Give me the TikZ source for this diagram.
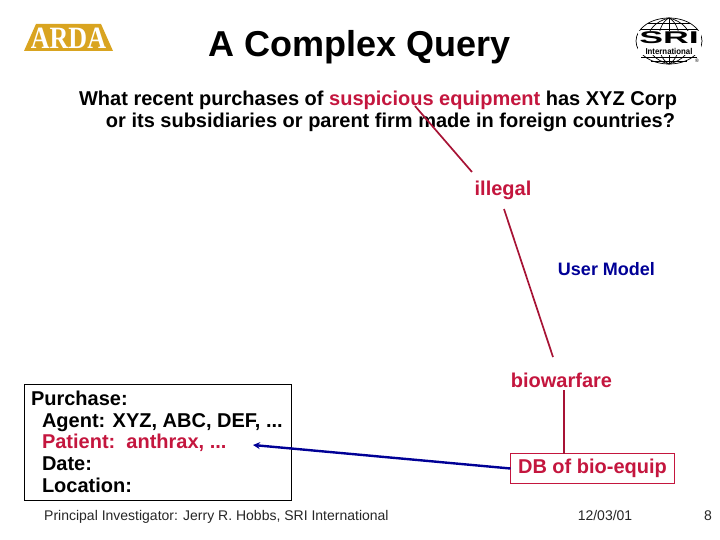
\documentclass[tikz,border=0pt]{standalone}
\usepackage{fontspec}
\usetikzlibrary{arrows.meta}
\setmainfont{Liberation Sans}
\newfontfamily\serifarda{Liberation Serif}
\definecolor{crim}{RGB}{196,22,62}
\definecolor{navy2}{RGB}{0,0,150}
\definecolor{gold}{RGB}{217,164,32}
\tikzset{
 lab/.style={inner sep=0pt,outer sep=0pt,font=\fontsize{#1}{#1}\selectfont\bfseries},
 lab/.default=20,
 foot/.style={inner sep=0pt,font=\fontsize{14}{14}\selectfont,text=black!85},
 redline/.style={draw=crim!85!black,line width=1.7pt},
 globe/.style={line width=0.7pt}
}
\begin{document}
\begin{tikzpicture}[x=1pt,y=-1pt]
\useasboundingbox (0,0) rectangle (720,540);
% ARDA logo
\fill[gold] (24,51) -- (36,24) -- (101,24) -- (113,51) -- cycle;
\node[inner sep=0pt,text=white,font=\serifarda\bfseries\fontsize{31}{31}\selectfont,anchor=base] (arda) at (68.5,49) {\scalebox{0.84}[1]{ARDA}};
% Title
\node[inner sep=0pt,font=\fontsize{36}{36}\selectfont\bfseries,anchor=base] (title) at (359.5,56.5) {A Complex Query};
% SRI logo
\begin{scope}[globe]
\draw (669,41) ellipse (33 and 23);
\draw (669,18) -- (669,64);
\draw (669,18) .. controls (655,25) and (655,57) .. (669,64);
\draw (669,18) .. controls (683,25) and (683,57) .. (669,64);
\draw (669,18) .. controls (640,25) and (640,57) .. (669,64);
\draw (669,18) .. controls (698,25) and (698,57) .. (669,64);
\draw (648,23) -- (690,23);
\draw (640,29) -- (698,29);
\draw (641,57) -- (697,57);
\draw (651,61) -- (687,61);
\end{scope}
\fill[white] (637.5,31) rectangle (700.5,55);
\node[inner sep=0pt,font=\fontsize{17}{17}\selectfont\bfseries,anchor=base] (sri) at (669,44) {\scalebox{2.1}[1]{SRI}};
\node[inner sep=0pt,font=\fontsize{8.5}{8.5}\selectfont\bfseries,anchor=base] (intl) at (669,54.5) {\scalebox{0.92}[1]{International}};
\node[inner sep=0pt,font=\fontsize{5}{5}\selectfont] (reg) at (697,61) {®};
% Question
\node[lab,anchor=base east] (q1) at (677,105.5) {What recent purchases of \textcolor{crim}{suspicious equipment} has XYZ Corp};
\node[lab,anchor=base east] (q2) at (675,127.5) {or its subsidiaries or parent firm made in foreign countries?};
\coordinate (susp) at (415,106);
% Labels
\node[lab,text=crim,anchor=base] (illegal) at (503,195.5) {illegal};
\node[lab=18,text=navy2,anchor=base] (um) at (606.5,275) {User Model};
\node[lab,text=crim,anchor=base] (bio) at (561.5,387) {biowarfare};
\node[lab,text=crim,draw=crim,line width=0.8pt,minimum width=164pt,minimum height=30pt] (db) at (592.5,468.5) {DB of bio-equip};
% Frame box
\node[draw=black,line width=0.8pt,inner sep=0pt,minimum width=267pt,minimum height=116pt] (frame) at (158,442.5) {};
\node[lab,anchor=base west] (t1) at (31,405) {Purchase:};
\node[lab,anchor=base west] (t2) at (42,427) {Agent: XYZ, ABC, DEF, ...};
\node[lab,text=crim,anchor=base west] (t3) at (42,448) {Patient:\ \ anthrax, ...};
\node[lab,anchor=base west] (t4) at (42,470) {Date:};
\node[lab,anchor=base west] (t5) at (42,492) {Location:};
% Footer
\node[foot,anchor=base west] (f1) at (44,520.5) {Principal Investigator: Jerry R. Hobbs, SRI International};
\node[foot,anchor=base] (f2) at (605,520.5) {12/03/01};
\node[foot,anchor=base] (f3) at (708,520.5) {8};
% Connectors
\coordinate (ill1) at (472,172);
\coordinate (ill2) at (504,209);
\coordinate (bio1) at (553,357);
\coordinate (bio2) at (564,390);
\coordinate (tip) at (253,445);
\draw[redline] (susp) -- (ill1);
\draw[redline] (ill2) -- (bio1);
\draw[redline] (bio2) -- (bio2 |- db.north);
\draw[draw=navy2,line width=2.4pt,-{Stealth[length=7pt,width=7pt]}] (db.west) -- (tip);
\end{tikzpicture}
\end{document}
